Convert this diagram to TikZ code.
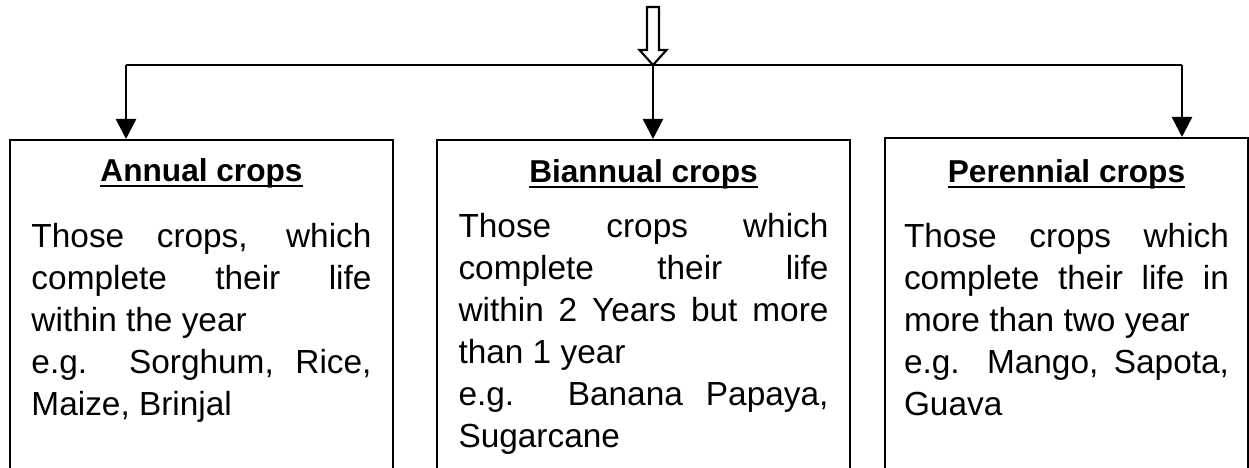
\documentclass[tikz,border=0pt]{standalone}
\usepackage{fontspec}
\setmainfont{Liberation Sans}
\usetikzlibrary{positioning, calc, arrows.meta}
\tikzset{
	cropbox/.style={draw, line width=0.7pt, anchor=north, minimum height=4cm, inner sep=0pt}
}
\tikzset{
	headtext/.style={font=\fontsize{9}{11}\selectfont\bfseries, anchor=base, inner sep=0pt}
}
\tikzset{
	bodytext/.style={font=\fontsize{9.5}{11.95}\selectfont, align=justify, anchor=north, inner sep=0pt}
}
\tikzset{
	branch/.style={line width=0.7pt, -{Triangle[width=2mm,length=2mm]}}
}
\newcommand{\cropul}[1]{\setbox0\hbox{#1}\rlap{\rule[-1.5pt]{\wd0}{0.55pt}}\box0}

\begin{document}
\begin{tikzpicture}
      \useasboundingbox (0,0) rectangle (12.49,-4.68);
      \clip (0,0) rectangle (12.49,-4.68);
      % boxes, open at the bottom
      \node[cropbox, minimum width=3.83cm] (annual) at (2.015,-1.39) {};
      \node[cropbox, minimum width=4.13cm] (biannual) at (6.435,-1.39) {};
      \node[cropbox, minimum width=3.63cm] (perennial) at (10.665,-1.37) {};
      % headings
      \node[headtext] (annualhead) at ($(annual.north)+(0,-0.43)$) {\cropul{Annual crops}};
      \node[headtext] (biannualhead) at ($(biannual.north)+(0,-0.44)$) {\cropul{Biannual crops}};
      \node[headtext] (perennialhead) at ($(perennial.north)+(0,-0.46)$) {\cropul{Perennial crops}};
      % texts
      \node[bodytext, text width=3.4cm] (annualtext) at ($(annual.north)+(0,-0.84)$)
        {Those crops, which\linebreak complete their life\linebreak within the year\\
         e.g. Sorghum, Rice,\linebreak Maize, Brinjal};
      \node[bodytext, text width=3.7cm] (biannualtext) at ($(biannual.north)+(0,-0.74)$)
        {Those crops which\linebreak complete their life\linebreak within 2 Years but more\linebreak than 1 year\\
         e.g. Banana Papaya,\linebreak Sugarcane};
      \node[bodytext, text width=3.25cm] (perennialtext) at ($(perennial.north)+(0,-0.86)$)
        {Those crops which\linebreak complete their life in\linebreak more than two year\\
         e.g. Mango, Sapota,\linebreak Guava};
      % hollow arrow and branches
      \coordinate (source) at (6.53,-0.07);
      \coordinate (split) at (6.53,-0.65);
      \coordinate (branchL) at (1.26,-0.65);
      \coordinate (branchR) at (11.82,-0.65);
      \draw[line width=0.6pt] ($(source)+(-0.06,0)$) -- ++(0,-0.43) -- ++(-0.075,0) -- (split)
        -- ($(split)+(0.135,0.15)$) -- ++(-0.075,0) -- ($(source)+(0.06,0)$) -- cycle;
      \draw[line width=0.7pt] (branchL) -- (branchR);
      \foreach \src/\dst in {branchL/annual, split/biannual, branchR/perennial}
        \draw[branch] (\src) -- (\src |- \dst.north);
    \end{tikzpicture}
\end{document}
